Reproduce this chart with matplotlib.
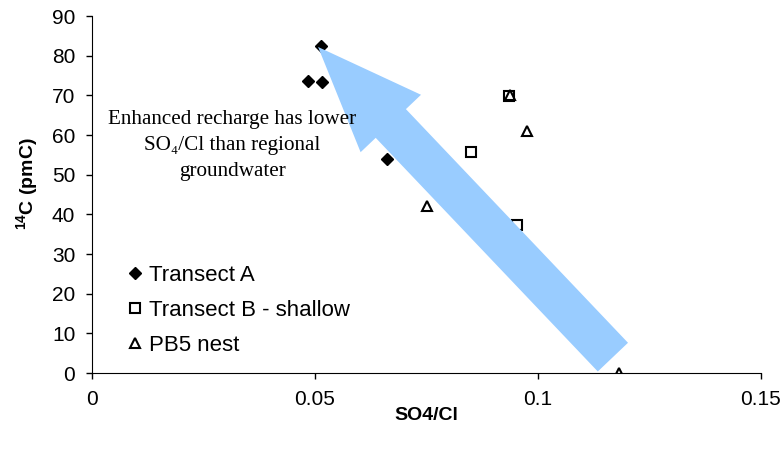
import matplotlib
matplotlib.use('Agg')
import matplotlib.pyplot as plt

plt.rcParams['font.family'] = ['Liberation Sans', 'DejaVu Sans']
plt.rcParams['mathtext.fontset'] = 'custom'
plt.rcParams['mathtext.rm'] = 'Liberation Sans'
plt.rcParams['mathtext.bf'] = 'Liberation Sans:bold'

# SO4/Cl ratio vs 14C activity
transect_a_x = [0.0514, 0.0484, 0.0515, 0.0661]
transect_a_y = [82.5, 73.6, 73.3, 53.9]

transect_b_x = [0.0934, 0.0849, 0.0954]
transect_b_y = [69.9, 55.6, 37.3]

pb5_x = [0.0937, 0.0975, 0.0751, 0.1182]
pb5_y = [70.0, 60.9, 42.2, 0.0]

x_ticks = [0, 0.05, 0.1, 0.15]
x_tick_labels = ['0', '0.05', '0.1', '0.15']
y_ticks = [0, 10, 20, 30, 40, 50, 60, 70, 80, 90]

fig = plt.figure(figsize=(7.82, 4.53), dpi=100)
ax = fig.add_axes([0.1176, 0.1766, 0.8555, 0.788])

ax.plot(transect_a_x, transect_a_y, 'D', color='black', ms=6, ls='none',
        label='Transect A', zorder=3)
ax.plot(transect_b_x, transect_b_y, 's', mfc='white', mec='black', mew=1.5,
        ms=6.5, ls='none', label='Transect B - shallow', zorder=3)
ax.plot(pb5_x, pb5_y, '^', mfc='none', mec='black', mew=1.5, ms=6.5,
        ls='none', label='PB5 nest', zorder=3)

# big arrow pointing towards the low SO4/Cl samples
ax.annotate('', xy=(0.0507, 82.2), xytext=(0.1168, 4.0),
            arrowprops=dict(arrowstyle='simple,head_length=7.6,head_width=6.0,tail_width=3.0',
                            mutation_scale=10, color='#99CCFF', lw=0,
                            shrinkA=0, shrinkB=0),
            zorder=4)

ax.text(0.0314, 57.3, 'Enhanced recharge has lower\nSO\u2084/Cl than regional\ngroundwater',
        family=['Liberation Serif', 'DejaVu Serif'], fontsize=15.2, ha='center',
        va='center', linespacing=1.5, zorder=5)

ax.set_xlim(0, 0.15)
ax.set_ylim(0, 90)
ax.set_xticks(x_ticks)
ax.set_xticklabels(x_tick_labels)
ax.set_yticks(y_ticks)
ax.tick_params(direction='out', length=4, width=1, labelsize=15, pad=8)
ax.spines['top'].set_visible(False)
ax.spines['right'].set_visible(False)

ax.set_xlabel('SO4/Cl', fontsize=14, fontweight='bold', labelpad=-1)
ax.set_ylabel(r'$\mathbf{^{14}}$C (pmC)', fontsize=14, fontweight='bold')
ax.yaxis.set_label_coords(-0.077, 0.53)

ax.legend(loc='lower left', frameon=False, fontsize=16, handlelength=0.8,
          handletextpad=0.23, labelspacing=0.64, borderaxespad=0,
          bbox_to_anchor=(0.0375, 0.022))

fig.savefig('out.png', dpi=100)
